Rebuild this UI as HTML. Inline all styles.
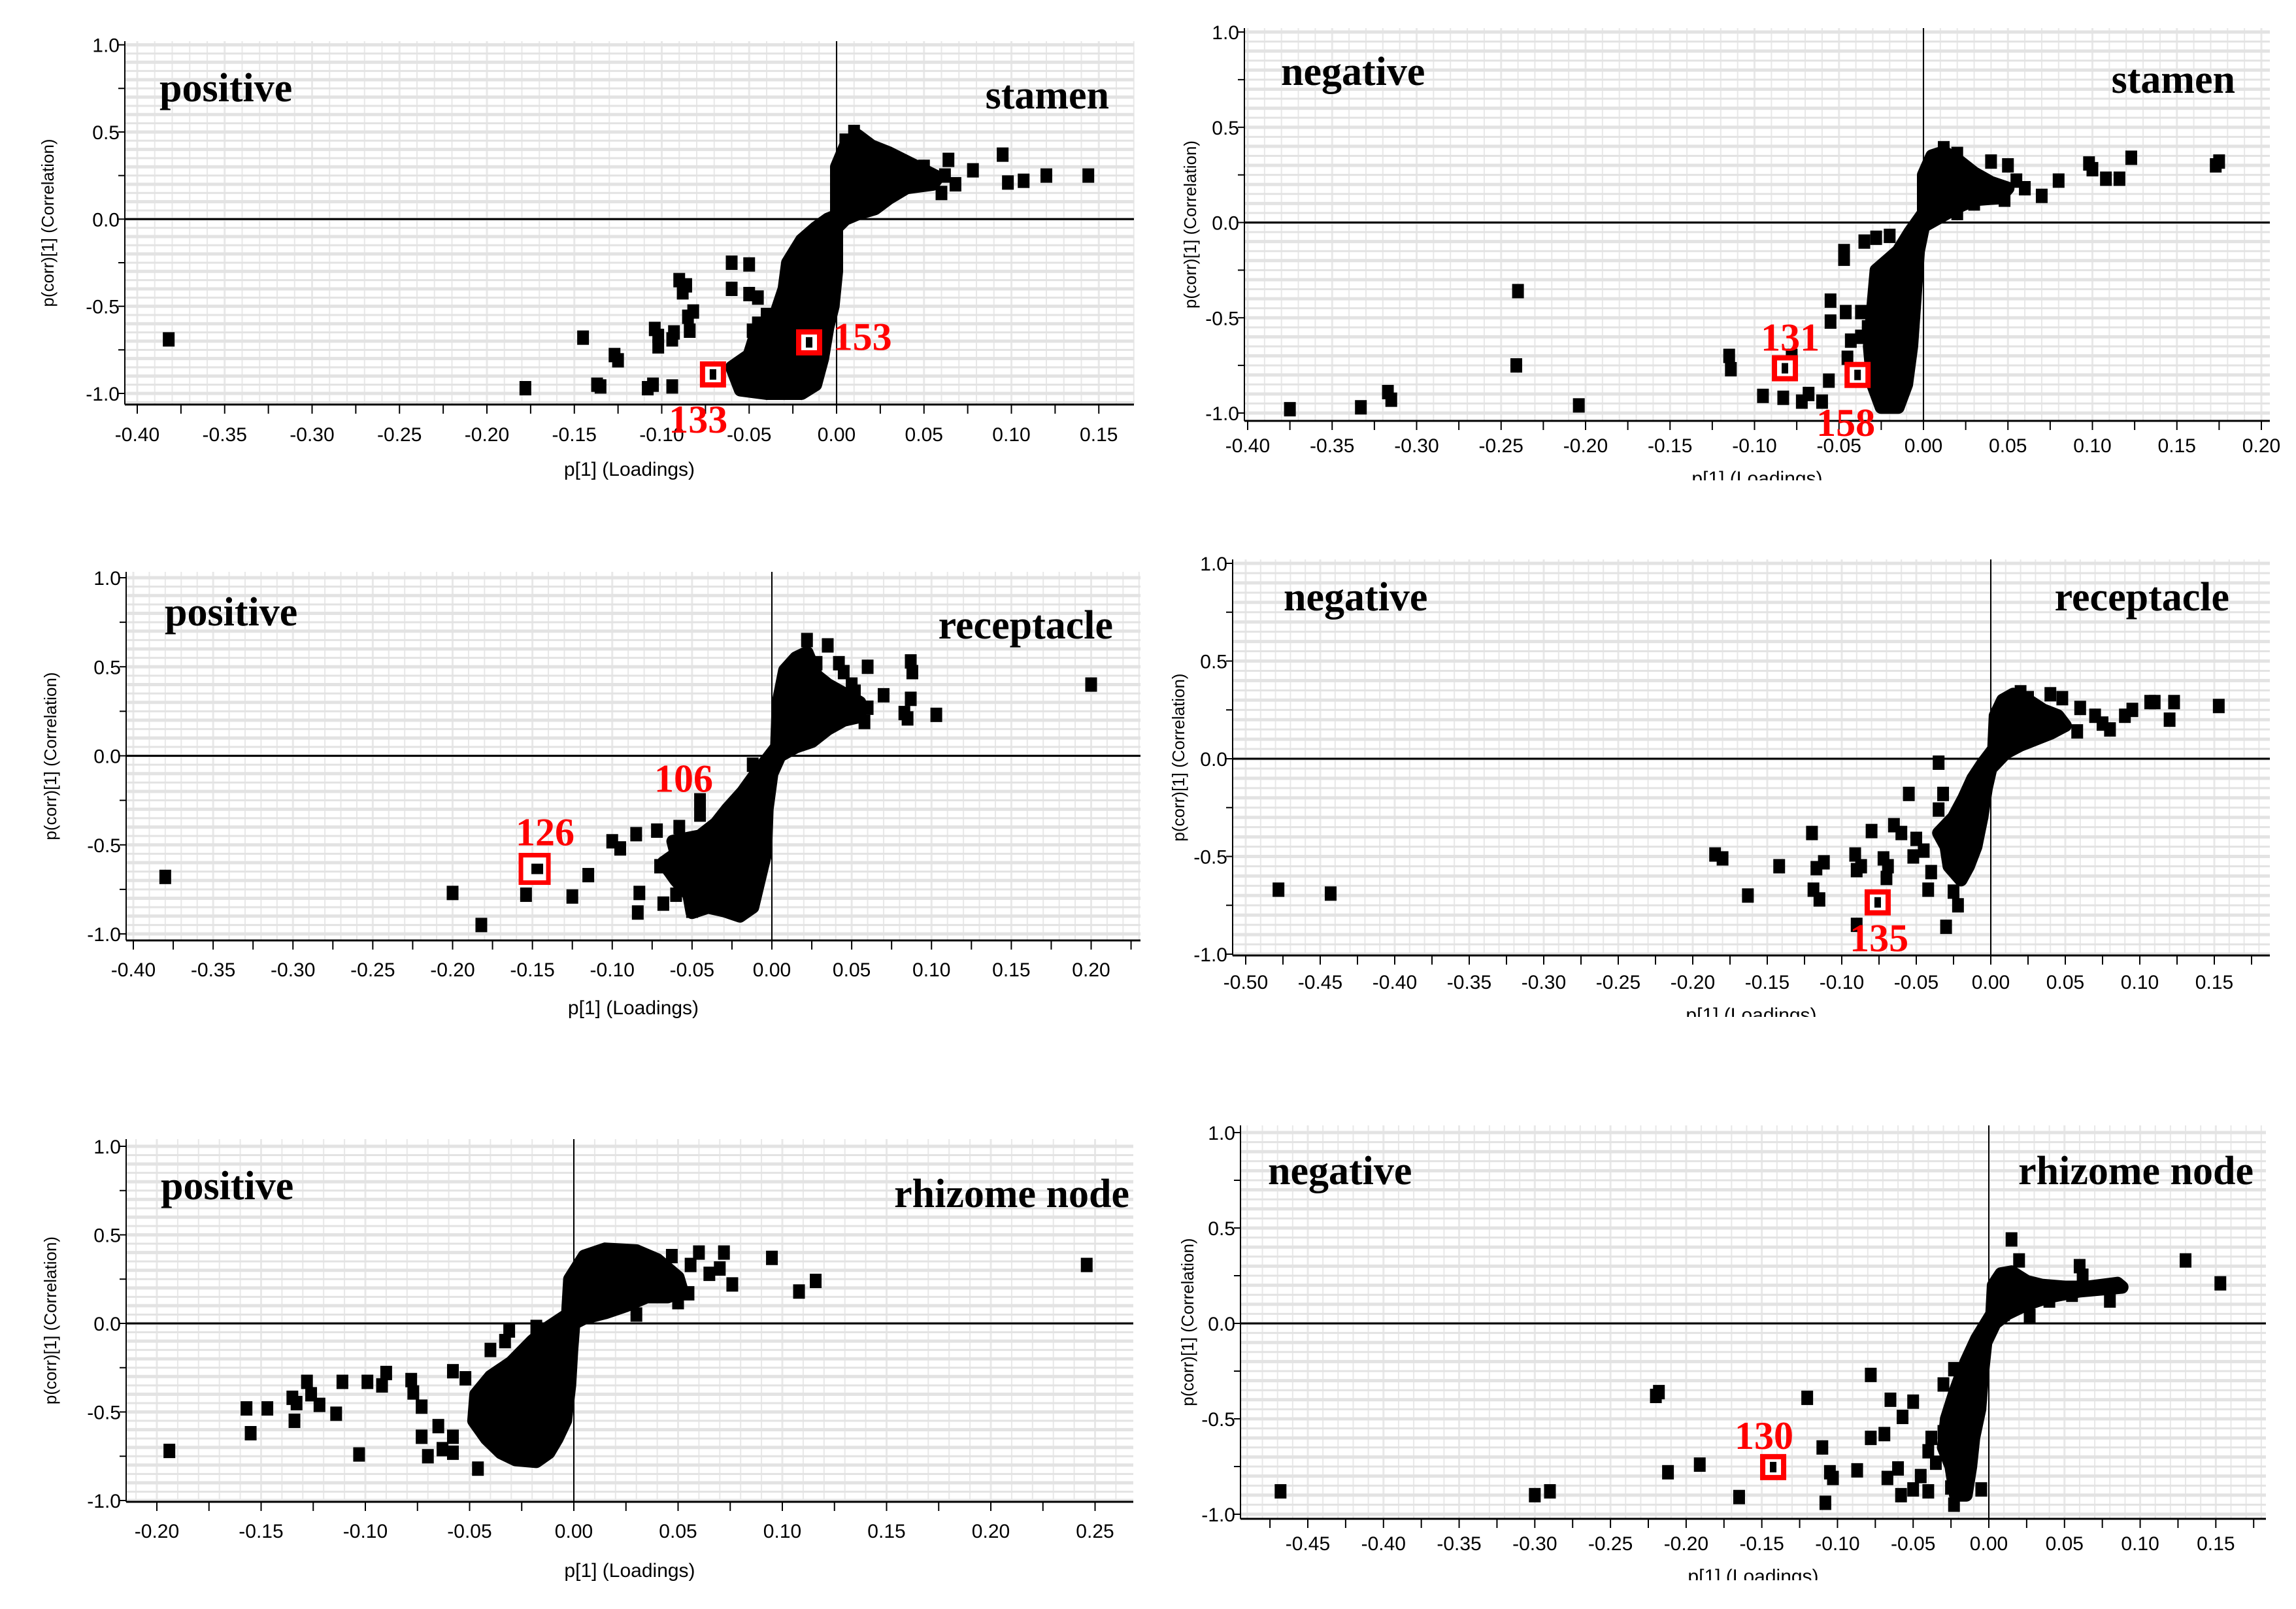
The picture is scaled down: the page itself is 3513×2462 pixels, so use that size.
<!DOCTYPE html>
<html><head><meta charset="utf-8"><style>
html,body{margin:0;padding:0;background:#fff;}
svg{display:block;}
</style></head><body>
<svg id="fig" xmlns="http://www.w3.org/2000/svg" width="3513" height="2462" viewBox="0 0 3513 2462"></svg>
<script>
// ---- data (p[1] loadings, p(corr)[1]) ----
const p1Points=[[-0.382,-0.69],[-0.178,-0.97],[-0.145,-0.68],[-0.137,-0.95],[-0.135,-0.96],[-0.127,-0.78],[-0.125,-0.81],[-0.108,-0.97],[-0.105,-0.95],[-0.104,-0.63],[-0.102,-0.67],[-0.102,-0.73],[-0.094,-0.69],[-0.093,-0.65],[-0.090,-0.35],[-0.086,-0.38],[-0.094,-0.96],[-0.088,-0.42],[-0.085,-0.56],[-0.082,-0.53],[-0.084,-0.64],[-0.060,-0.25],[-0.050,-0.26],[-0.060,-0.40],[-0.050,-0.43],[-0.045,-0.45],[-0.040,-0.55],[-0.045,-0.60],[-0.048,-0.64],[0.095,0.37],[0.078,0.28],[0.120,0.25],[0.064,0.34],[0.062,0.25],[0.068,0.20],[0.060,0.15],[0.098,0.21],[0.107,0.22],[0.144,0.25],[0.050,0.30],[0.045,0.28],[0.038,0.22],[0.030,0.16],[0.025,0.36],[0.010,0.50],[0.005,0.45]];
const p1Cluster=[[0.0,0.02],[0.0,0.30],[0.005,0.42],[0.012,0.48],[0.020,0.42],[0.030,0.38],[0.040,0.33],[0.050,0.28],[0.058,0.24],[0.055,0.20],[0.040,0.18],[0.030,0.12],[0.022,0.06],[0.012,0.03],[0.005,0.0],[0.0,-0.05],[0.0,-0.30],[-0.002,-0.50],[-0.005,-0.62],[-0.008,-0.80],[-0.012,-0.95],[-0.020,-1.0],[-0.040,-1.0],[-0.055,-0.98],[-0.060,-0.85],[-0.050,-0.78],[-0.045,-0.62],[-0.035,-0.55],[-0.030,-0.40],[-0.028,-0.25],[-0.020,-0.12],[-0.012,-0.05],[-0.005,0.0]];
const p1Highlights=[[-0.0157,-0.707],[-0.0707,-0.891]];
const p1HighlightLabels=["153","133"];
const p1LabelAnchors=[[-0.002,-0.75],[-0.096,-1.225]];
const p1XTicks=[-0.40,-0.35,-0.30,-0.25,-0.20,-0.15,-0.10,-0.05,0.00,0.05,0.10,0.15];

const p2Points=[[-0.375,-0.98],[-0.333,-0.97],[-0.317,-0.89],[-0.315,-0.93],[-0.240,-0.36],[-0.241,-0.75],[-0.204,-0.96],[-0.115,-0.70],[-0.114,-0.77],[-0.095,-0.91],[-0.083,-0.92],[-0.078,-0.70],[-0.072,-0.94],[-0.068,-0.90],[-0.060,-0.94],[-0.056,-0.83],[-0.055,-0.41],[-0.055,-0.52],[-0.046,-0.47],[-0.045,-0.71],[-0.043,-0.62],[-0.037,-0.47],[-0.037,-0.60],[-0.033,-0.55],[-0.047,-0.15],[-0.047,-0.19],[-0.035,-0.10],[-0.028,-0.08],[-0.020,-0.07],[0.050,0.30],[0.040,0.32],[0.055,0.22],[0.060,0.18],[0.070,0.14],[0.080,0.22],[0.098,0.31],[0.100,0.28],[0.108,0.23],[0.116,0.23],[0.123,0.34],[0.173,0.30],[0.175,0.32],[0.048,0.12],[0.030,0.10],[0.020,0.05],[0.012,0.39],[0.020,0.36]];
const p2Cluster=[[0.0,0.05],[0.0,0.25],[0.005,0.35],[0.012,0.37],[0.020,0.33],[0.030,0.26],[0.040,0.21],[0.050,0.18],[0.045,0.13],[0.030,0.12],[0.020,0.08],[0.010,0.03],[0.0,-0.02],[-0.003,-0.15],[-0.005,-0.40],[-0.007,-0.65],[-0.010,-0.85],[-0.015,-0.97],[-0.025,-0.97],[-0.030,-0.85],[-0.032,-0.65],[-0.030,-0.45],[-0.028,-0.25],[-0.015,-0.15],[-0.008,-0.05]];
const p2Highlights=[[-0.082,-0.765],[-0.039,-0.80]];
const p2HighlightLabels=["131","158"];
const p2LabelAnchors=[[-0.0963,-0.672],[-0.0634,-1.12]];
const p2XTicks=[-0.40,-0.35,-0.30,-0.25,-0.20,-0.15,-0.10,-0.05,0.00,0.05,0.10,0.15,0.20];

const p3Points=[[-0.380,-0.68],[-0.200,-0.77],[-0.182,-0.95],[-0.152,-0.63],[-0.154,-0.78],[-0.125,-0.79],[-0.115,-0.67],[-0.100,-0.48],[-0.095,-0.52],[-0.085,-0.44],[-0.083,-0.77],[-0.084,-0.88],[-0.072,-0.42],[-0.070,-0.62],[-0.068,-0.83],[-0.058,-0.40],[-0.060,-0.78],[-0.050,-0.87],[-0.045,-0.25],[-0.045,-0.33],[-0.055,-0.47],[-0.050,-0.82],[-0.012,-0.05],[0.022,0.65],[0.035,0.62],[0.028,0.52],[0.042,0.52],[0.045,0.47],[0.060,0.50],[0.087,0.53],[0.088,0.47],[0.087,0.32],[0.070,0.34],[0.083,0.24],[0.085,0.21],[0.103,0.23],[0.058,0.19],[0.060,0.27],[0.050,0.40],[0.052,0.36],[0.200,0.40]];
const p3Cluster=[[0.003,0.05],[0.004,0.30],[0.008,0.48],[0.015,0.55],[0.022,0.58],[0.028,0.45],[0.035,0.40],[0.045,0.35],[0.055,0.30],[0.055,0.22],[0.045,0.20],[0.035,0.15],[0.025,0.08],[0.015,0.05],[0.005,0.0],[0.0,-0.10],[-0.003,-0.30],[-0.004,-0.55],[-0.008,-0.70],[-0.012,-0.85],[-0.020,-0.90],[-0.030,-0.87],[-0.040,-0.85],[-0.050,-0.88],[-0.052,-0.78],[-0.060,-0.70],[-0.068,-0.60],[-0.060,-0.55],[-0.062,-0.48],[-0.045,-0.45],[-0.035,-0.38],[-0.028,-0.30],[-0.018,-0.20],[-0.010,-0.10],[-0.003,-0.02]];
const p3Highlights=[[-0.1486,-0.635]];
const p3HighlightLabels=["126","106"];
const p3LabelAnchors=[[-0.1605,-0.503],[-0.0737,-0.202]];
const p3XTicks=[-0.40,-0.35,-0.30,-0.25,-0.20,-0.15,-0.10,-0.05,0.00,0.05,0.10,0.15,0.20];

const p4Points=[[-0.478,-0.67],[-0.443,-0.69],[-0.185,-0.49],[-0.180,-0.51],[-0.163,-0.70],[-0.142,-0.55],[-0.120,-0.38],[-0.117,-0.56],[-0.112,-0.53],[-0.119,-0.67],[-0.115,-0.72],[-0.091,-0.49],[-0.090,-0.57],[-0.087,-0.55],[-0.080,-0.37],[-0.072,-0.51],[-0.070,-0.61],[-0.069,-0.55],[-0.065,-0.34],[-0.060,-0.38],[-0.050,-0.41],[-0.055,-0.18],[-0.052,-0.50],[-0.045,-0.47],[-0.040,-0.58],[-0.042,-0.67],[-0.035,-0.02],[-0.032,-0.18],[-0.035,-0.26],[-0.090,-0.85],[-0.030,-0.86],[-0.025,-0.68],[-0.022,-0.75],[0.040,0.33],[0.048,0.31],[0.060,0.26],[0.070,0.22],[0.075,0.18],[0.080,0.15],[0.090,0.22],[0.095,0.25],[0.107,0.29],[0.110,0.29],[0.123,0.29],[0.120,0.20],[0.153,0.27],[0.058,0.14],[0.025,0.31],[0.020,0.34]];
const p4Cluster=[[0.002,0.05],[0.003,0.22],[0.008,0.30],[0.015,0.33],[0.025,0.30],[0.035,0.25],[0.045,0.22],[0.050,0.17],[0.040,0.13],[0.030,0.10],[0.020,0.07],[0.010,0.03],[0.0,-0.05],[-0.003,-0.15],[-0.006,-0.30],[-0.010,-0.45],[-0.015,-0.55],[-0.020,-0.62],[-0.028,-0.55],[-0.030,-0.45],[-0.035,-0.38],[-0.025,-0.30],[-0.018,-0.20],[-0.012,-0.10],[-0.005,-0.02]];
const p4Highlights=[[-0.0759,-0.735]];
const p4HighlightLabels=["135"];
const p4LabelAnchors=[[-0.0947,-0.985]];
const p4XTicks=[-0.50,-0.45,-0.40,-0.35,-0.30,-0.25,-0.20,-0.15,-0.10,-0.05,0.00,0.05,0.10,0.15];

const p5Points=[[-0.194,-0.72],[-0.157,-0.48],[-0.155,-0.62],[-0.147,-0.48],[-0.135,-0.42],[-0.133,-0.45],[-0.134,-0.55],[-0.128,-0.33],[-0.126,-0.40],[-0.122,-0.46],[-0.114,-0.51],[-0.111,-0.33],[-0.103,-0.74],[-0.099,-0.33],[-0.092,-0.35],[-0.090,-0.28],[-0.078,-0.32],[-0.077,-0.39],[-0.073,-0.47],[-0.073,-0.64],[-0.070,-0.75],[-0.065,-0.58],[-0.063,-0.71],[-0.058,-0.73],[-0.058,-0.64],[-0.046,-0.82],[-0.058,-0.27],[-0.052,-0.31],[-0.040,-0.15],[-0.033,-0.10],[-0.031,-0.04],[-0.018,-0.02],[0.047,0.38],[0.060,0.40],[0.072,0.40],[0.095,0.37],[0.056,0.33],[0.065,0.28],[0.070,0.31],[0.076,0.22],[0.108,0.18],[0.116,0.24],[0.246,0.33],[0.050,0.12],[0.055,0.17],[0.030,0.05]];
const p5Cluster=[[-0.003,0.05],[-0.002,0.25],[0.005,0.38],[0.015,0.42],[0.030,0.41],[0.040,0.36],[0.050,0.26],[0.052,0.18],[0.045,0.15],[0.035,0.15],[0.025,0.10],[0.015,0.06],[0.005,0.03],[0.0,0.0],[-0.001,-0.15],[-0.002,-0.35],[-0.004,-0.55],[-0.008,-0.65],[-0.012,-0.73],[-0.018,-0.78],[-0.028,-0.77],[-0.035,-0.73],[-0.042,-0.65],[-0.048,-0.55],[-0.047,-0.40],[-0.040,-0.30],[-0.030,-0.22],[-0.020,-0.10],[-0.012,-0.02]];
const p5Highlights=[];
const p5HighlightLabels=[];
const p5LabelAnchors=[];
const p5XTicks=[-0.20,-0.15,-0.10,-0.05,0.00,0.05,0.10,0.15,0.20,0.25];

const p6Points=[[-0.468,-0.88],[-0.300,-0.90],[-0.290,-0.88],[-0.220,-0.38],[-0.218,-0.36],[-0.212,-0.78],[-0.191,-0.74],[-0.165,-0.91],[-0.120,-0.39],[-0.110,-0.65],[-0.105,-0.78],[-0.103,-0.81],[-0.108,-0.94],[-0.087,-0.77],[-0.078,-0.27],[-0.078,-0.60],[-0.069,-0.58],[-0.065,-0.40],[-0.067,-0.81],[-0.060,-0.76],[-0.057,-0.49],[-0.058,-0.90],[-0.050,-0.41],[-0.050,-0.87],[-0.045,-0.80],[-0.040,-0.88],[-0.040,-0.67],[-0.038,-0.60],[-0.035,-0.73],[-0.030,-0.32],[-0.030,-0.57],[-0.025,-0.86],[-0.023,-0.95],[-0.023,-0.24],[-0.005,-0.87],[0.015,0.44],[0.020,0.33],[0.010,0.05],[0.027,0.04],[0.060,0.30],[0.062,0.25],[0.080,0.12],[0.130,0.33],[0.153,0.21],[0.055,0.15],[0.040,0.12]];
const p6Cluster=[[0.002,0.05],[0.003,0.20],[0.008,0.26],[0.015,0.27],[0.025,0.22],[0.035,0.20],[0.050,0.19],[0.065,0.19],[0.085,0.21],[0.088,0.19],[0.060,0.17],[0.040,0.14],[0.025,0.10],[0.012,0.05],[0.004,0.0],[-0.002,-0.10],[-0.004,-0.25],[-0.006,-0.45],[-0.010,-0.60],[-0.012,-0.75],[-0.015,-0.90],[-0.022,-0.90],[-0.025,-0.75],[-0.030,-0.65],[-0.028,-0.50],[-0.022,-0.35],[-0.015,-0.20],[-0.008,-0.08]];
const p6Highlights=[[-0.1425,-0.753]];
const p6HighlightLabels=["130"];
const p6LabelAnchors=[[-0.168,-0.658]];
const p6XTicks=[-0.45,-0.40,-0.35,-0.30,-0.25,-0.20,-0.15,-0.10,-0.05,0.00,0.05,0.10,0.15];

const yTicks=[1.0,0.5,0.0,-0.5,-1.0];

// ---- layout (pixel geometry, not data) ----
const panels=[
 {key:'stamen-positive',pts:p1Points,cl:p1Cluster,hl:p1Highlights,hlLab:p1HighlightLabels,labAt:p1LabelAnchors,xt:p1XTicks,
  ax:[-0.40,210,0,1280],ay:[1,68.6,-1,602],f:{l:191,r:1735,t:63,b:619},tickY:675,titleY:728,ytX:82,clip:null,
  lt:'positive',lp:[244,155],rt:'stamen',rp:[1697,166],bigBox:[]},
 {key:'stamen-negative',pts:p2Points,cl:p2Cluster,hl:p2Highlights,hlLab:p2HighlightLabels,labAt:p2LabelAnchors,xt:p2XTicks,
  ax:[-0.40,1909,0,2943],ay:[1,49,-1,632],f:{l:1904,r:3473,t:43,b:644},tickY:692,titleY:742,ytX:1830,clip:735,
  lt:'negative',lp:[1960,130],rt:'stamen',rp:[3420,142],bigBox:[]},
 {key:'receptacle-positive',pts:p3Points,cl:p3Cluster,hl:p3Highlights,hlLab:p3HighlightLabels,labAt:p3LabelAnchors,xt:p3XTicks,
  ax:[-0.40,204,0,1181],ay:[1,884,-1,1429],f:{l:193,r:1745,t:875,b:1439},tickY:1494,titleY:1552,ytX:86,clip:null,
  lt:'positive',lp:[252,957],rt:'receptacle',rp:[1703,977],bigBox:[0]},
 {key:'receptacle-negative',pts:p4Points,cl:p4Cluster,hl:p4Highlights,hlLab:p4HighlightLabels,labAt:p4LabelAnchors,xt:p4XTicks,
  ax:[-0.50,1906,0,3046],ay:[1,862,-1,1460],f:{l:1886,r:3473,t:856,b:1462},tickY:1513,titleY:1563,ytX:1812,clip:1556,
  lt:'negative',lp:[1964,934],rt:'receptacle',rp:[3411,934],bigBox:[]},
 {key:'rhizome-node-positive',pts:p5Points,cl:p5Cluster,hl:p5Highlights,hlLab:p5HighlightLabels,labAt:p5LabelAnchors,xt:p5XTicks,
  ax:[-0.20,240,0,878],ay:[1,1754,-1,2296],f:{l:193,r:1734,t:1743,b:2298},tickY:2353,titleY:2413,ytX:86,clip:null,
  lt:'positive',lp:[246,1835],rt:'rhizome node',rp:[1728,1847],bigBox:[]},
 {key:'rhizome-node-negative',pts:p6Points,cl:p6Cluster,hl:p6Highlights,hlLab:p6HighlightLabels,labAt:p6LabelAnchors,xt:p6XTicks,
  ax:[-0.45,2001,0,3043],ay:[1,1733,-1,2317],f:{l:1898,r:3467,t:1722,b:2324},tickY:2372,titleY:2422,ytX:1826,clip:2418,
  lt:'negative',lp:[1940,1812],rt:'rhizome node',rp:[3448,1812],bigBox:[]}
];

const NS='http://www.w3.org/2000/svg';
const svg=document.getElementById('fig');
function mk(tag,attrs,parent){const e=document.createElementNS(NS,tag);for(const k in attrs)e.setAttribute(k,attrs[k]);(parent||svg).appendChild(e);return e;}

panels.forEach((P,pi)=>{
  const sx=v=>P.ax[1]+(v-P.ax[0])*(P.ax[3]-P.ax[1])/(P.ax[2]-P.ax[0]);
  const sy=v=>P.ay[1]+(v-P.ay[0])*(P.ay[3]-P.ay[1])/(P.ay[2]-P.ay[0]);
  const g=mk('g',{});
  
  
  const f=P.f;
  const grid=mk('g',{},g);
  
  
  const xmin=P.ax[0]-0.06, xmax=P.xt[P.xt.length-1]+0.06;
  for(let i=Math.round(xmin*100);i<=Math.round(xmax*100);i++){
    const X=sx(i/100); if(X<f.l||X>f.r) continue;
    mk('line',{x1:X,x2:X,y1:f.t,y2:f.b,stroke:'#e8e8e8','stroke-width':(i%5===0)?3:2},grid);
  }
  for(let i=-22;i<=22;i++){
    const Y=sy(i/20); if(Y<f.t||Y>f.b) continue;
    mk('line',{x1:f.l,x2:f.r,y1:Y,y2:Y,stroke:'#e3e3e3','stroke-width':(i%2===0)?5:3},grid);
  }
  const zx=mk('line',{x1:sx(0),x2:sx(0),y1:f.t,y2:f.b,stroke:'#000','stroke-width':2},g);
  
  
  const zy=mk('line',{x1:f.l,x2:f.r,y1:sy(0),y2:sy(0),stroke:'#000','stroke-width':3},g);
  
  
  const yax=mk('line',{x1:f.l,x2:f.l,y1:f.t,y2:f.b,stroke:'#000','stroke-width':2},g);
  
  
  const xax=mk('line',{x1:f.l,x2:f.r,y1:f.b,y2:f.b,stroke:'#000','stroke-width':3},g);
  
  
  for(let i=Math.round(P.xt[0]*40)-1;i<=Math.round(P.xt[P.xt.length-1]*40)+1;i++){
    const X=sx(i/40); if(X<f.l||X>f.r) continue;
    mk('line',{x1:X,x2:X,y1:f.b,y2:f.b+14,stroke:'#000','stroke-width':2},g);
  }
  P.xt.forEach(v=>{
    const t=mk('text',{x:sx(v),y:P.tickY,'text-anchor':'middle','font-family':'"Liberation Sans Narrow","Liberation Sans",sans-serif','font-size':30,fill:'#000'},g);
    t.textContent=v.toFixed(2);
    
    
  });
  [1,0.75,0.5,0.25,0,-0.25,-0.5,-0.75,-1].forEach(v=>{
    mk('line',{x1:f.l-10,x2:f.l,y1:sy(v),y2:sy(v),stroke:'#000','stroke-width':2},g);
  });
  yTicks.forEach(v=>{
    const t=mk('text',{x:f.l-8,y:sy(v)+11,'text-anchor':'end','font-family':'"Liberation Sans Narrow","Liberation Sans",sans-serif','font-size':30,fill:'#000'},g);
    t.textContent=v.toFixed(1);
    
    
  });
  const xt=mk('text',{x:(f.l+f.r)/2,y:P.titleY,'text-anchor':'middle','font-family':'"Liberation Sans Narrow","Liberation Sans",sans-serif','font-size':30,fill:'#000'},g);
  xt.textContent='p[1] (Loadings)';
  
  
  const cy=(f.t+f.b)/2;
  const yt=mk('text',{x:P.ytX,y:cy,'text-anchor':'middle','font-family':'"Liberation Sans",sans-serif','font-size':26,fill:'#000',transform:`rotate(-90 ${P.ytX} ${cy})`},g);
  yt.textContent='p(corr)[1] (Correlation)';
  
  
  if(P.clip){
    const c=mk('rect',{x:f.l-100,y:P.clip,width:f.r-f.l+140,height:40,fill:'#fff'},g);
    
    
  }
  const poly=mk('polygon',{points:P.cl.map(p=>sx(p[0])+','+sy(p[1])).join(' '),fill:'#000',stroke:'#000','stroke-width':20,'stroke-linejoin':'round'},g);
  
  
  P.pts.forEach(p=>{
    const r=mk('rect',{x:sx(p[0])-9,y:sy(p[1])-11,width:18,height:22,fill:'#000'},g);
    
    
  });
  P.hl.forEach((p,i)=>{
    const big=P.bigBox.includes(i);const s=big?42:32;
    const r=mk('rect',{x:sx(p[0])-s/2,y:sy(p[1])-s/2,width:s,height:s,fill:'#fff',stroke:'#f00','stroke-width':big?7:8},g);
    
    
    const r2=mk('rect',{x:sx(p[0])-5,y:sy(p[1])-8,width:big?18:10,height:16,fill:'#000'},g);
    
    
  });
  P.hlLab.forEach((s,i)=>{
    const a=P.labAt[i];
    const t=mk('text',{x:sx(a[0]),y:sy(a[1]),'font-family':'"Liberation Serif",serif','font-weight':'bold','font-size':60,fill:'#f00'},g);
    t.textContent=s;
    
    
  });
  const lt=mk('text',{x:P.lp[0],y:P.lp[1],'font-family':'"Liberation Serif",serif','font-weight':'bold','font-size':62,fill:'#000'},g);
  lt.textContent=P.lt;
  
  
  const rt=mk('text',{x:P.rp[0],y:P.rp[1],'text-anchor':'end','font-family':'"Liberation Serif",serif','font-weight':'bold','font-size':62,fill:'#000'},g);
  rt.textContent=P.rt;
  
  
});
</script>
</body></html>
